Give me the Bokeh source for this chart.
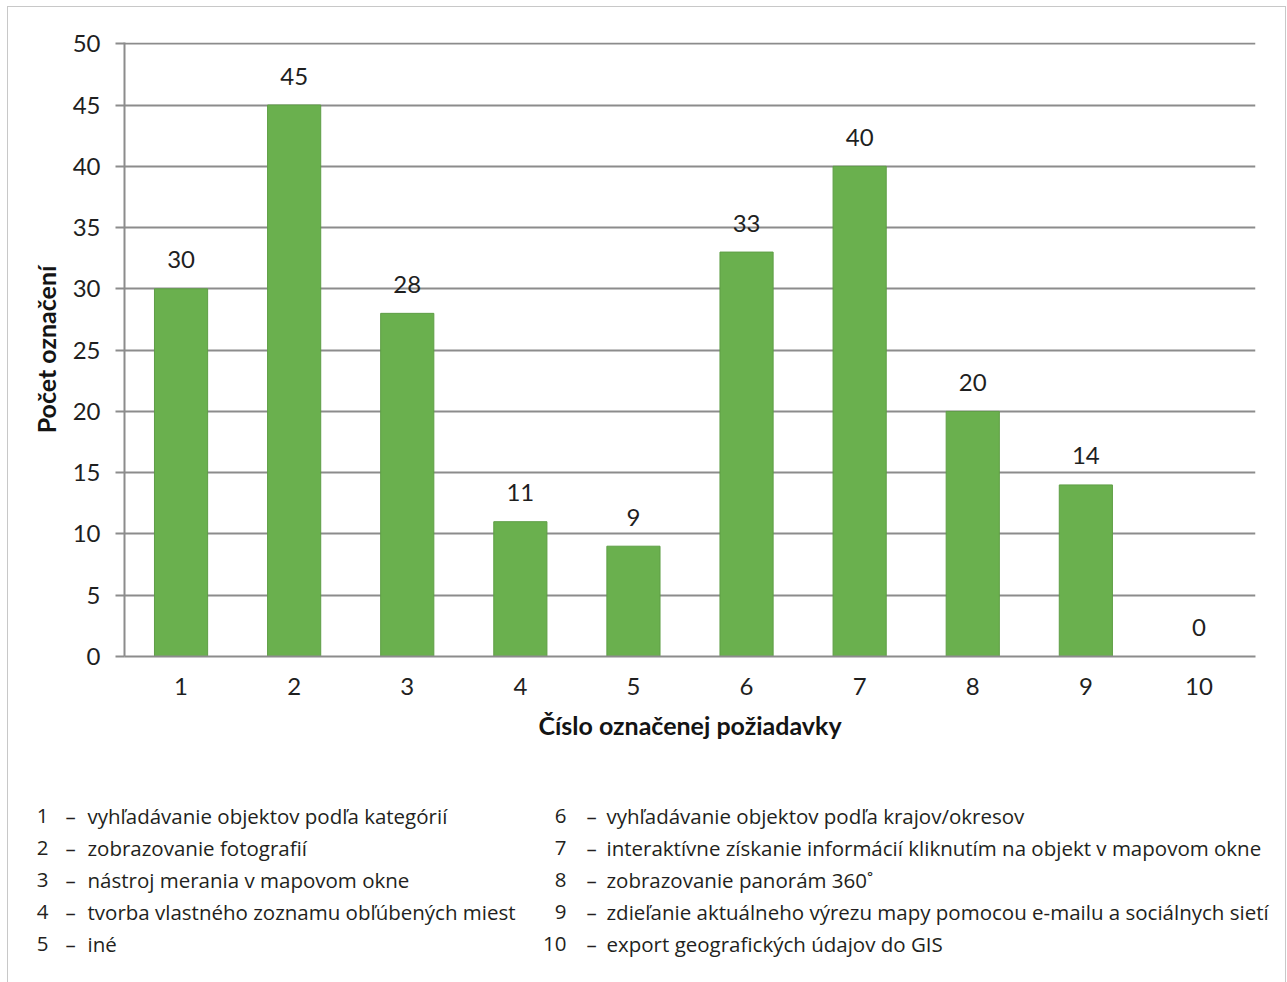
from bokeh.plotting import figure
from bokeh.models import FixedTicker, ColumnDataSource, Range1d
from bokeh.layouts import column
from bokeh.embed import file_html
from bokeh.resources import INLINE
from bokeh.core.properties import value

# ---- data ----
categories = [1, 2, 3, 4, 5, 6, 7, 8, 9, 10]
counts = [30, 45, 28, 11, 9, 33, 40, 20, 14, 0]
y_ticks = [0, 5, 10, 15, 20, 25, 30, 35, 40, 45, 50]
x_label = "Číslo označenej požiadavky"
y_label = "Počet označení"
descriptions = [
    "vyhľadávanie objektov podľa kategórií",
    "zobrazovanie fotografií",
    "nástroj merania v mapovom okne",
    "tvorba vlastného zoznamu obľúbených miest",
    "iné",
    "vyhľadávanie objektov podľa krajov/okresov",
    "interaktívne získanie informácií kliknutím na objekt v mapovom okne",
    "zobrazovanie panorám 360˚",
    "zdieľanie aktuálneho výrezu mapy pomocou e-mailu a sociálnych sietí",
    "export geografických údajov do GIS",
]

# ---- layout (page pixels) ----
OX, OY = 8, 7              # content origin inside the outer border
W = 1277                   # inner width
H_CHART = 760
H_LEG = 982 - OY - H_CHART
FL, FR, FB = 124, 1255, 656  # frame in page px
Y_TOP = 50.1
PX_PER_UNIT = (656 - 43) / 50.0
FT = FB - Y_TOP * PX_PER_UNIT

CHART_FONT = "Lato"
LEG_FONT = "Open Sans"
TXT = "#1f1f1f"
GRID = "#8c8c8c"

p = figure(width=W, height=H_CHART, x_range=(0.5, 10.5), y_range=(0, Y_TOP),
           output_backend="svg", toolbar_location=None,
           min_border_left=FL - OX, min_border_right=OX + W - FR,
           min_border_top=int(round(FT - OY)), min_border_bottom=OY + H_CHART - FB)
p.frame_align = False
p.title.visible = False
p.outline_line_color = None
p.background_fill_color = "white"
p.border_fill_color = "white"

src = ColumnDataSource(dict(x=categories, y=counts, lab=[str(c) for c in counts]))
p.vbar(x="x", top="y", width=0.47, source=src, fill_color="#6AB04E",
       line_color="#5E9E45", line_width=1)
p.text(x="x", y="y", text="lab", source=src, y_offset=-29,
       text_align="center", text_baseline="middle",
       text_font=value(CHART_FONT), text_font_size="24px", text_color=TXT)

p.xaxis.ticker = FixedTicker(ticks=categories)
p.yaxis.ticker = FixedTicker(ticks=y_ticks)
p.xgrid.visible = False
p.ygrid.grid_line_color = GRID
p.ygrid.grid_line_width = 2

for ax in (p.xaxis[0], p.yaxis[0]):
    ax.axis_line_color = GRID
    ax.axis_line_width = 2
    ax.major_label_text_font = CHART_FONT
    ax.major_label_text_font_size = "24px"
    ax.major_label_text_color = TXT
    ax.axis_label_text_font = CHART_FONT
    ax.axis_label_text_font_size = "25px"
    ax.axis_label_text_font_style = "bold"
    ax.axis_label_text_color = "#141414"
    ax.minor_tick_line_color = None

p.xaxis.major_tick_line_color = None
p.xaxis.major_tick_out = 0
p.xaxis.major_tick_in = 0
p.xaxis.major_label_standoff = 21
p.xaxis.axis_label = x_label
p.xaxis.axis_label_standoff = 12

p.yaxis.major_tick_line_color = GRID
p.yaxis.major_tick_line_width = 2
p.yaxis.major_tick_out = 9
p.yaxis.major_tick_in = 0
p.yaxis.major_label_standoff = 15
p.yaxis.axis_label = y_label
p.yaxis.axis_label_standoff = 9

# ---- legend (key of requirement numbers) ----
rows_y = [815, 847, 879, 911, 943]
cols = [(48, 70, 87), (566, 591, 606)]
nx, dxs, tx, ty = [], [], [], []
for i in range(len(categories)):
    c = cols[i // 5]
    nx.append(c[0]); dxs.append(c[1]); tx.append(c[2]); ty.append(rows_y[i % 5])
leg_src = ColumnDataSource(dict(nx=nx, dx=dxs, tx=tx, y=ty,
                                num=[str(c) for c in categories],
                                dash=["–"] * len(categories), desc=descriptions))

q = figure(width=W, height=H_LEG, x_range=Range1d(OX, OX + W),
           y_range=Range1d(OY + H_CHART + H_LEG, OY + H_CHART),
           output_backend="svg", toolbar_location=None,
           min_border=0)
q.frame_align = False
q.title.visible = False
q.axis.visible = False
q.grid.visible = False
q.outline_line_color = None
common = dict(source=leg_src, text_font=value(LEG_FONT), text_font_size="20.5px",
              text_color="#231f20", text_baseline="middle")
q.text(x="nx", y="y", text="num", text_align="right", **common)
q.text(x="dx", y="y", text="dash", text_align="center", **common)
q.text(x="tx", y="y", text="desc", text_align="left", **common)

layout = column(p, q, spacing=0,
                styles={"margin-left": "7px", "margin-top": "6px",
                        "border-left": "1px solid #c8c8c8",
                        "border-top": "1px solid #c8c8c8",
                        "border-right": "1px solid #c8c8c8"})

open("out.html", "w").write(file_html(layout, INLINE))
